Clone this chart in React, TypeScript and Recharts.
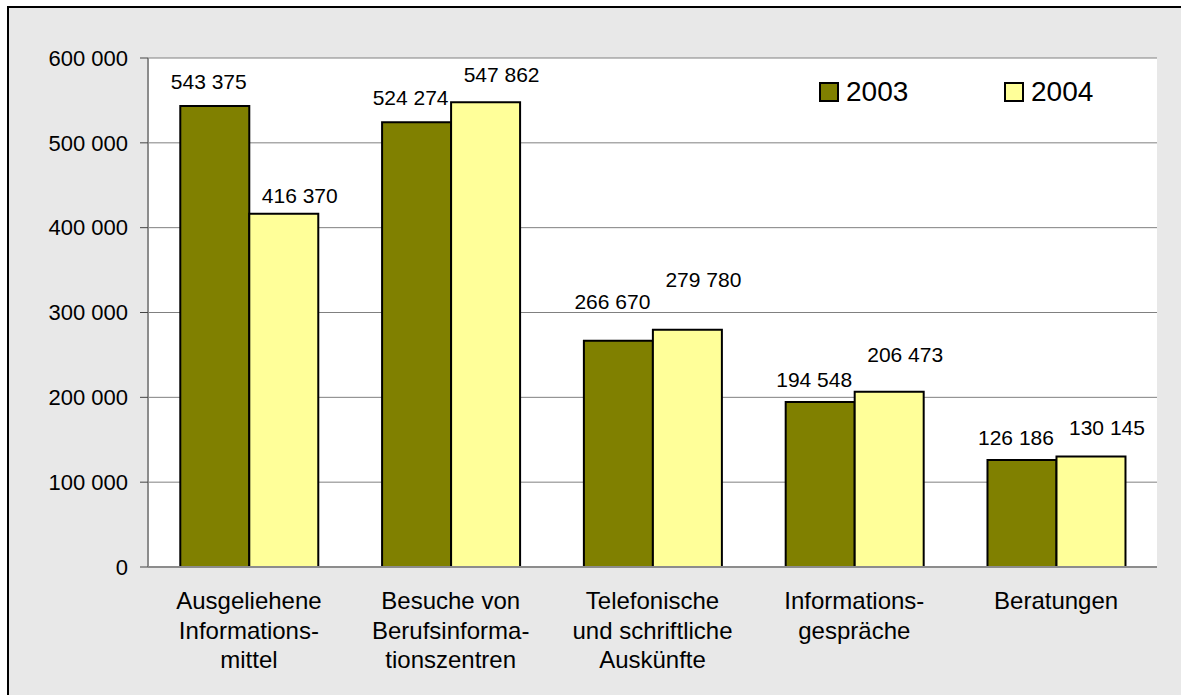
import React from "react";
import {
  Bar,
  BarChart,
  CartesianGrid,
  LabelList,
  XAxis,
  YAxis,
} from "recharts";

const categories = [
  "Ausgeliehene\nInformations-\nmittel",
  "Besuche von\nBerufsinforma-\ntionszentren",
  "Telefonische\nund schriftliche\nAuskünfte",
  "Informations-\ngespräche",
  "Beratungen",
];
const values2003 = [543375, 524274, 266670, 194548, 126186];
const values2004 = [416370, 547862, 279780, 206473, 130145];
const yTicks = [0, 100000, 200000, 300000, 400000, 500000, 600000];

// gap (px) between bar top and its value label, as placed in the original
const labelGap2003 = [17, 17, 32, 15, 15];
const labelGap2004 = [11, 20, 43, 30, 22];

const data = categories.map((name, i) => ({
  name,
  y2003: values2003[i],
  y2004: values2004[i],
}));

const fmt = (v: number) => String(v).replace(/\B(?=(\d{3})+(?!\d))/g, " ");

const FONT = '"Liberation Sans", Arial, Helvetica, sans-serif';

function CategoryTick(props: any) {
  const { x, y, payload } = props;
  const lines = String(payload.value).split("\n");
  return (
    <text x={x} y={y} textAnchor="middle" fontSize={24} fill="#000">
      {lines.map((l, i) => (
        <tspan key={i} x={x} y={y + 42 + i * 29.5}>
          {l}
        </tspan>
      ))}
    </text>
  );
}

const makeLabel = (gaps: number[], dx: number) => (props: any) => {
  const { x, y, width, value, index } = props;
  return (
    <text
      x={x + width / 2 + dx}
      y={y - gaps[index]}
      textAnchor="middle"
      fontSize={21}
      fill="#000"
    >
      {fmt(value)}
    </text>
  );
};

function LegendBox() {
  const items = [
    { label: "2003", color: "#808000" },
    { label: "2004", color: "#FFFF99" },
  ];
  return (
    <div
      style={{
        position: "absolute",
        left: 819,
        top: 78,
        display: "flex",
        alignItems: "center",
      }}
    >
      {items.map((it) => (
        <div
          key={it.label}
          style={{ display: "flex", alignItems: "center", width: 185 }}
        >
          <span
            style={{
              width: 20,
              height: 20,
              boxSizing: "border-box",
              border: "2px solid #000",
              background: it.color,
              marginRight: 7,
            }}
          />
          <span style={{ fontSize: 28, lineHeight: "28px", color: "#000" }}>
            {it.label}
          </span>
        </div>
      ))}
    </div>
  );
}

export default function App() {
  return (
    <div
      style={{
        position: "absolute",
        left: 0,
        top: 0,
        width: 1181,
        height: 695,
        overflow: "hidden",
        background: "#fff",
        fontFamily: FONT,
      }}
    >
      <div
        style={{
          position: "absolute",
          left: 7,
          top: 6,
          width: 1220,
          height: 720,
          border: "2px solid #000",
          background: "#e8e8e8",
        }}
      />
      <div style={{ position: "absolute", left: 0, top: 0 }}>
        <BarChart
          width={1181}
          height={695}
          data={data}
          margin={{ top: 58, right: 24, bottom: 0, left: 48 }}
          barCategoryGap="16%"
          barGap={0}
        >
          <CartesianGrid
            vertical={false}
            stroke="#808080"
            fill="#fff"
            fillOpacity={1}
          />
          <XAxis
            dataKey="name"
            interval={0}
            height={128}
            tickLine={false}
            tickSize={0}
            tickMargin={0}
            axisLine={{ stroke: "#8c8c8c", strokeWidth: 2 }}
            tick={<CategoryTick />}
          />
          <YAxis
            domain={[0, 600000]}
            ticks={yTicks}
            width={100}
            tickSize={8}
            tickMargin={12}
            tickFormatter={fmt}
            tick={{ fontSize: 22, fill: "#000" }}
            tickLine={{ stroke: "#444" }}
            axisLine={{ stroke: "#8c8c8c", strokeWidth: 2 }}
          />
          <YAxis
            yAxisId="frame"
            orientation="right"
            domain={[0, 600000]}
            width={0}
            tick={false}
            tickLine={false}
            axisLine={{ stroke: "#8c8c8c", strokeWidth: 2 }}
          />
          <Bar
            dataKey="y2003"
            name="2003"
            fill="#808000"
            stroke="#000"
            strokeWidth={2}
            isAnimationActive={false}
          >
            <LabelList dataKey="y2003" content={makeLabel(labelGap2003, -6)} />
          </Bar>
          <Bar
            dataKey="y2004"
            name="2004"
            fill="#FFFF99"
            stroke="#000"
            strokeWidth={2}
            isAnimationActive={false}
          >
            <LabelList dataKey="y2004" content={makeLabel(labelGap2004, 16)} />
          </Bar>
        </BarChart>
      </div>
      <LegendBox />
    </div>
  );
}
